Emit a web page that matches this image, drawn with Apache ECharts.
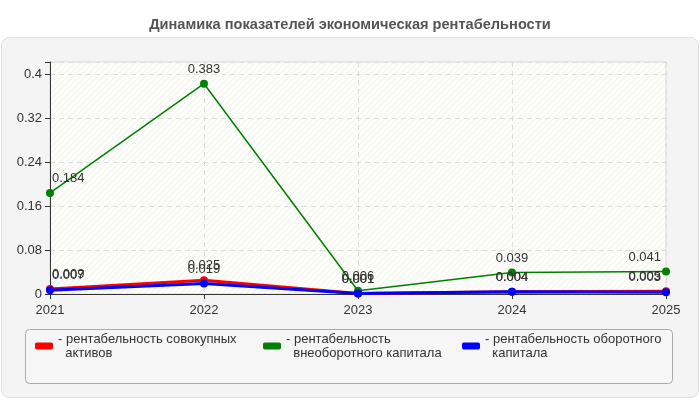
<!DOCTYPE html>
<html>
<head>
<meta charset="utf-8">
<script src="https://cdn.jsdelivr.net/npm/echarts@6/dist/echarts.min.js"></script>
<style>html,body{margin:0;padding:0;background:#fff;}#c{width:700px;height:400px;}</style>
</head>
<body>
<div id="c"></div>
<script>
var categories = ['2021', '2022', '2023', '2024', '2025'];
var totalAssets = [0.009, 0.025, 0.001, 0.004, 0.005];
var nonCurrent = [0.184, 0.383, 0.006, 0.039, 0.041];
var current = [0.007, 0.019, 0.001, 0.004, 0.003];
var yTicks = [0, 0.08, 0.16, 0.24, 0.32, 0.4];
var seriesNames = ['рентабельность совокупных активов', 'рентабельность внеоборотного капитала', 'рентабельность оборотного капитала'];
var legendTexts = ['- рентабельность совокупных\n  активов', '- рентабельность\n  внеоборотного капитала', '- рентабельность оборотного\n  капитала'];

var FONT = 'Liberation Sans, Arial, sans-serif';

function makePattern() {
  var cv = document.createElement('canvas');
  cv.width = 6; cv.height = 6;
  var ctx = cv.getContext('2d');
  ctx.fillStyle = '#fdfdfa';
  ctx.fillRect(0, 0, 6, 6);
  ctx.strokeStyle = '#efefef';
  ctx.lineWidth = 1;
  ctx.beginPath();
  ctx.moveTo(0, 6); ctx.lineTo(6, 0);
  ctx.moveTo(-1, 1); ctx.lineTo(1, -1);
  ctx.moveTo(5, 7); ctx.lineTo(7, 5);
  ctx.stroke();
  return {image: cv, repeat: 'repeat'};
}

function buildData(arr) {
  var n = arr.length;
  return arr.map(function (v, i) {
    var item = {value: v};
    if (i === 0) item.label = {align: 'left', offset: [2, 0]};
    if (i === n - 1) item.label = {align: 'right', offset: [-5, 0]};
    return item;
  });
}

var colors = ['#ff0000', '#008000', '#0000ff'];
var dataArr = [totalAssets, nonCurrent, current];
var widths = [3, 1.5, 3];

var chart = echarts.init(document.getElementById('c'), null, {renderer: 'canvas'});

var legends = [35, 263, 462].map(function (x, i) {
  return {
    left: x, top: 325, padding: 0,
    itemWidth: 18, itemHeight: 7, icon: 'roundRect',
    selectedMode: false,
    data: [{name: seriesNames[i], itemStyle: {color: colors[i], borderWidth: 0}}],
    formatter: function () { return legendTexts[i]; },
    textStyle: {fontSize: 13, fontFamily: FONT, color: '#333', lineHeight: 14, padding: [14, 0, 0, 0]}
  };
});

var option = {
  animation: false,
  backgroundColor: '#ffffff',
  title: {
    text: 'Динамика показателей экономическая рентабельности',
    left: 'center', top: 12,
    textStyle: {fontSize: 14.6, fontWeight: 'bold', color: '#555', fontFamily: FONT}
  },
  graphic: [
    {type: 'rect', z: -10, shape: {x: 1.5, y: 37.5, width: 697, height: 360, r: 8},
      style: {fill: '#f4f4f4', stroke: '#e0e0e0', lineWidth: 1}},
    {type: 'rect', z: -9, shape: {x: 25.5, y: 329.5, width: 647, height: 54, r: 4},
      style: {fill: '#f6f6f6', stroke: '#aaaaaa', lineWidth: 1}}
  ],
  legend: legends,
  grid: {
    left: 50, right: 34, top: 62, bottom: 106,
    show: true, backgroundColor: makePattern(), borderColor: '#dddddd', borderWidth: 1
  },
  xAxis: {
    type: 'category', data: categories, boundaryGap: false,
    axisLine: {lineStyle: {color: '#333', width: 1}},
    axisTick: {show: true, length: 5, lineStyle: {color: '#333'}},
    axisLabel: {fontSize: 13, color: '#333', fontFamily: FONT, margin: 10},
    splitLine: {show: true, lineStyle: {color: '#dddddd', type: [5, 4]}}
  },
  yAxis: {
    type: 'value', min: 0, max: 0.4225, interval: 0.08,
    axisLine: {show: true, lineStyle: {color: '#333', width: 1}},
    axisTick: {show: true, length: 5, lineStyle: {color: '#333'}},
    axisLabel: {fontSize: 13, color: '#333', fontFamily: FONT, margin: 8,
      formatter: function (v) {
        var r = parseFloat(v.toFixed(2));
        return yTicks.indexOf(r) >= 0 ? String(r) : '';
      }},
    splitLine: {show: true, lineStyle: {color: '#dddddd', type: [5, 4]}}
  },
  series: seriesNames.map(function (name, i) {
    return {
      name: name, type: 'line',
      data: buildData(dataArr[i]),
      color: colors[i],
      symbol: 'circle', symbolSize: 8,
      lineStyle: {width: widths[i], color: colors[i]},
      itemStyle: {color: colors[i]},
      label: {show: true, position: 'top', distance: 4, fontSize: 13, color: '#333', fontFamily: FONT},
      z: i === 2 ? 4 : (i === 0 ? 3 : 2)
    };
  })
};
chart.setOption(option);
</script>
</body>
</html>
